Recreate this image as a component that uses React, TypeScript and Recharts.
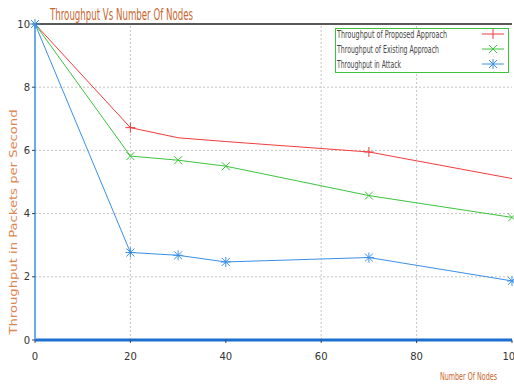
import React from "react";
import { LineChart, Line, XAxis, YAxis, CartesianGrid, ReferenceLine } from "recharts";

const nodes = [0, 20, 30, 40, 70, 100];
const proposed = [10, 6.72, 6.4, 6.28, 5.95, 5.11];
const existing = [10, 5.82, 5.69, 5.5, 4.57, 3.88];
const attack = [10, 2.77, 2.68, 2.47, 2.61, 1.87];
const xTicks = [0, 20, 40, 60, 80, 100];
const yTicks = [0, 2, 4, 6, 8, 10];
const vGrid = [20, 60, 80];
const proposedMarked = [20, 70];

const data = nodes.map((n, i) => ({ n, proposed: proposed[i], existing: existing[i], attack: attack[i] }));

const RED = "#f23c3c";
const GREEN = "#3cc43c";
const BLUE = "#3a8fe8";
const ORANGE = "#c8642e";
const LIGHT_ORANGE = "#dc8650";
const FONT = "'DejaVu Sans', sans-serif";

const Plus = (props: any) => {
  const { cx, cy, payload, key } = props;
  if (!proposedMarked.includes(payload.n)) return <g key={key} />;
  return (
    <g key={key} stroke={RED} strokeWidth={1}>
      <line x1={cx - 5} y1={cy} x2={cx + 5} y2={cy} />
      <line x1={cx} y1={cy - 5} x2={cx} y2={cy + 5} />
    </g>
  );
};
const Cross = (props: any) => {
  const { cx, cy, key } = props;
  return (
    <g key={key} stroke={GREEN} strokeWidth={1}>
      <line x1={cx - 4} y1={cy - 4} x2={cx + 4} y2={cy + 4} />
      <line x1={cx - 4} y1={cy + 4} x2={cx + 4} y2={cy - 4} />
    </g>
  );
};
const Star = (props: any) => {
  const { cx, cy, key } = props;
  return (
    <g key={key} stroke={BLUE} strokeWidth={1}>
      <line x1={cx - 4} y1={cy - 4} x2={cx + 4} y2={cy + 4} />
      <line x1={cx - 4} y1={cy + 4} x2={cx + 4} y2={cy - 4} />
      <line x1={cx} y1={cy - 5} x2={cx} y2={cy + 5} />
      <line x1={cx - 5} y1={cy} x2={cx + 5} y2={cy} />
    </g>
  );
};

const legendItems = [
  { label: "Throughput of Proposed Approach", color: RED, kind: "plus", len: 110 },
  { label: "Throughput of Existing Approach", color: GREEN, kind: "cross", len: 102 },
  { label: "Throughput in Attack", color: BLUE, kind: "star", len: 64 },
];

const Overlay = () => (
  <svg width={514} height={387} style={{ position: "absolute", left: 0, top: 0, pointerEvents: "none" }}>
    <text x={50} y={20} fontSize={16} fill={ORANGE} fontFamily={FONT} textLength={143} lengthAdjust="spacingAndGlyphs">
      Throughput Vs Number Of Nodes
    </text>
    <text transform="translate(440,380) scale(0.64,1)" x={0} y={0} fontSize={10} fill={ORANGE} fontFamily={FONT}>
      Number Of Nodes
    </text>
    <text
      transform="translate(17,222) rotate(-90)"
      x={0}
      y={0}
      fontSize={10.5}
      fill={LIGHT_ORANGE}
      fontFamily={FONT}
      textAnchor="middle"
      textLength={225}
      lengthAdjust="spacingAndGlyphs"
    >
      Throughput in Packets per Second
    </text>
    <g transform="translate(335,28)">
      <rect x={0.5} y={0.5} width={173} height={44} fill="#fff" stroke={GREEN} strokeWidth={1} />
      {legendItems.map((it, i) => {
        const y = 6 + i * 15;
        const cx = 158;
        return (
          <g key={it.label}>
            <text x={2} y={y + 3.5} fontSize={10} fill="#444" fontFamily={FONT} textLength={it.len} lengthAdjust="spacingAndGlyphs">
              {it.label}
            </text>
            <line x1={147} y1={y} x2={169} y2={y} stroke={it.color} />
            {it.kind === "plus" && <line x1={cx} y1={y - 5} x2={cx} y2={y + 5} stroke={it.color} />}
            {it.kind !== "plus" && (
              <g stroke={it.color}>
                <line x1={cx - 4} y1={y - 4} x2={cx + 4} y2={y + 4} />
                <line x1={cx - 4} y1={y + 4} x2={cx + 4} y2={y - 4} />
                {it.kind === "star" && <line x1={cx} y1={y - 5} x2={cx} y2={y + 5} />}
              </g>
            )}
          </g>
        );
      })}
    </g>
  </svg>
);

const tickStyle = { fontSize: 10, fill: "#333", fontFamily: FONT };

export default function App() {
  return (
    <div style={{ position: "absolute", left: 0, top: 0, width: 514, height: 387, background: "#fff" }}>
      <LineChart width={514} height={387} data={data} margin={{ top: 24, right: 2, left: 0, bottom: 0 }}>
        <CartesianGrid vertical={false} horizontalValues={[2, 4, 6, 8]} stroke="#c4c4c4" strokeDasharray="2 2" />
        {vGrid.map((v) => (
          <ReferenceLine key={v} x={v} stroke="#c4c4c4" strokeDasharray="2 2" />
        ))}
        <ReferenceLine y={10} stroke="#222" strokeWidth={1.5} />
        <XAxis
          dataKey="n"
          type="number"
          domain={[0, 100]}
          ticks={xTicks}
          height={47}
          axisLine={{ stroke: "#1a6fd0", strokeWidth: 3 }}
          tickLine={{ stroke: "#444" }}
          tickSize={3}
          tickMargin={10}
          tick={tickStyle}
          interval={0}
        />
        <YAxis
          type="number"
          domain={[0, 10]}
          ticks={yTicks}
          width={35}
          axisLine={{ stroke: BLUE, strokeWidth: 1.5 }}
          tickLine={{ stroke: "#444" }}
          tickSize={3}
          tick={tickStyle}
          interval={0}
        />
        <Line dataKey="proposed" stroke={RED} strokeWidth={1} dot={Plus} activeDot={false} isAnimationActive={false} />
        <Line dataKey="existing" stroke={GREEN} strokeWidth={1} dot={Cross} activeDot={false} isAnimationActive={false} />
        <Line dataKey="attack" stroke={BLUE} strokeWidth={1} dot={Star} activeDot={false} isAnimationActive={false} />
      </LineChart>
      <Overlay />
    </div>
  );
}
